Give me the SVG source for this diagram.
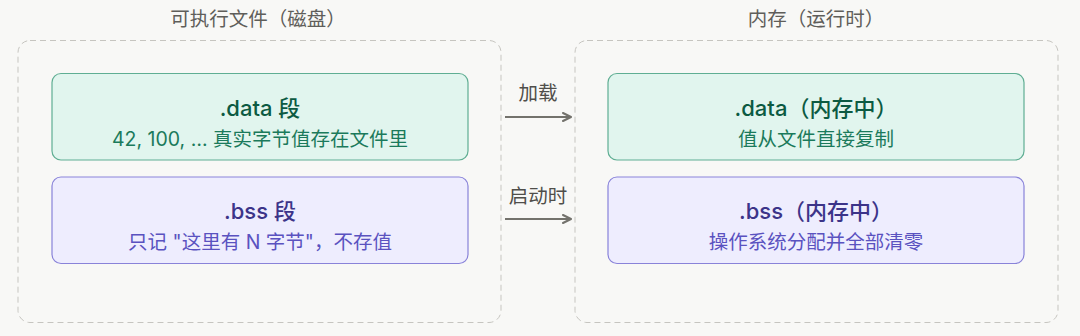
<svg xmlns="http://www.w3.org/2000/svg" width="1080" height="336" viewBox="0 0 1080 336">
<defs>
<style>
text{font-family:Inter,"Noto Sans CJK SC",sans-serif;text-anchor:middle}
.hdr{font-size:19.5px;fill:#5f5e5a}
.cont{fill:none;stroke:#c6c5c0;stroke-width:1;stroke-dasharray:6 4}
.dbox{fill:#e1f5ee;stroke:#5fae93;stroke-width:1.2}
.bbox{fill:#eeedfe;stroke:#8983d9;stroke-width:1.2}
.dt{font-size:22px;font-weight:500;fill:#0c5a42}
.ds{font-size:19.5px;fill:#1b7a5b}
.bt{font-size:22px;font-weight:500;fill:#3c3489}
.bs{font-size:19.5px;fill:#5a52c0}
.lbl{font-size:19.5px;fill:#4f4e4a}
.arr{fill:none;stroke:#73726c;stroke-width:2}
</style>
<marker id="ah" viewBox="0 0 10 10" refX="9" refY="5" markerWidth="10" markerHeight="10" markerUnits="userSpaceOnUse" orient="auto">
<path d="M1 1 L9 5 L1 9" fill="none" stroke="#73726c" stroke-width="2" stroke-linecap="round" stroke-linejoin="round"/>
</marker>
</defs>
<rect width="1080" height="336" fill="#f8f8f6"/>
<g id="disk">
<text class="hdr" x="258" y="26">可执行文件（磁盘）</text>
<rect class="cont" x="18" y="40.5" width="483" height="282" rx="12"/>
</g>
<g id="mem">
<text class="hdr" x="816" y="26">内存（运行时）</text>
<rect class="cont" x="575" y="40.5" width="483" height="282" rx="12"/>
</g>
<g id="disk-data">
<rect class="dbox" x="52" y="73.5" width="416" height="86.5" rx="9"/>
<text class="dt" x="260" y="116">.data 段</text>
<text class="ds" x="260" y="146">42, 100, … 真实字节值存在文件里</text>
</g>
<g id="disk-bss">
<rect class="bbox" x="52" y="177" width="416" height="86.5" rx="9"/>
<text class="bt" x="260" y="219">.bss 段</text>
<text class="bs" x="260" y="249">只记 "这里有 N 字节"，不存值</text>
</g>
<g id="mem-data">
<rect class="dbox" x="608" y="73.5" width="416" height="86.5" rx="9"/>
<text class="dt" x="816" y="116">.data（内存中）</text>
<text class="ds" x="816" y="146">值从文件直接复制</text>
</g>
<g id="mem-bss">
<rect class="bbox" x="608" y="177" width="416" height="86.5" rx="9"/>
<text class="bt" x="816" y="219">.bss（内存中）</text>
<text class="bs" x="816" y="249">操作系统分配并全部清零</text>
</g>
<g id="connectors">
<line class="arr" x1="505" y1="117" x2="571" y2="117" marker-end="url(#ah)"/>
<text class="lbl" x="538" y="100">加载</text>
<line class="arr" x1="505" y1="219" x2="571" y2="219" marker-end="url(#ah)"/>
<text class="lbl" x="538" y="203">启动时</text>
</g>
</svg>
